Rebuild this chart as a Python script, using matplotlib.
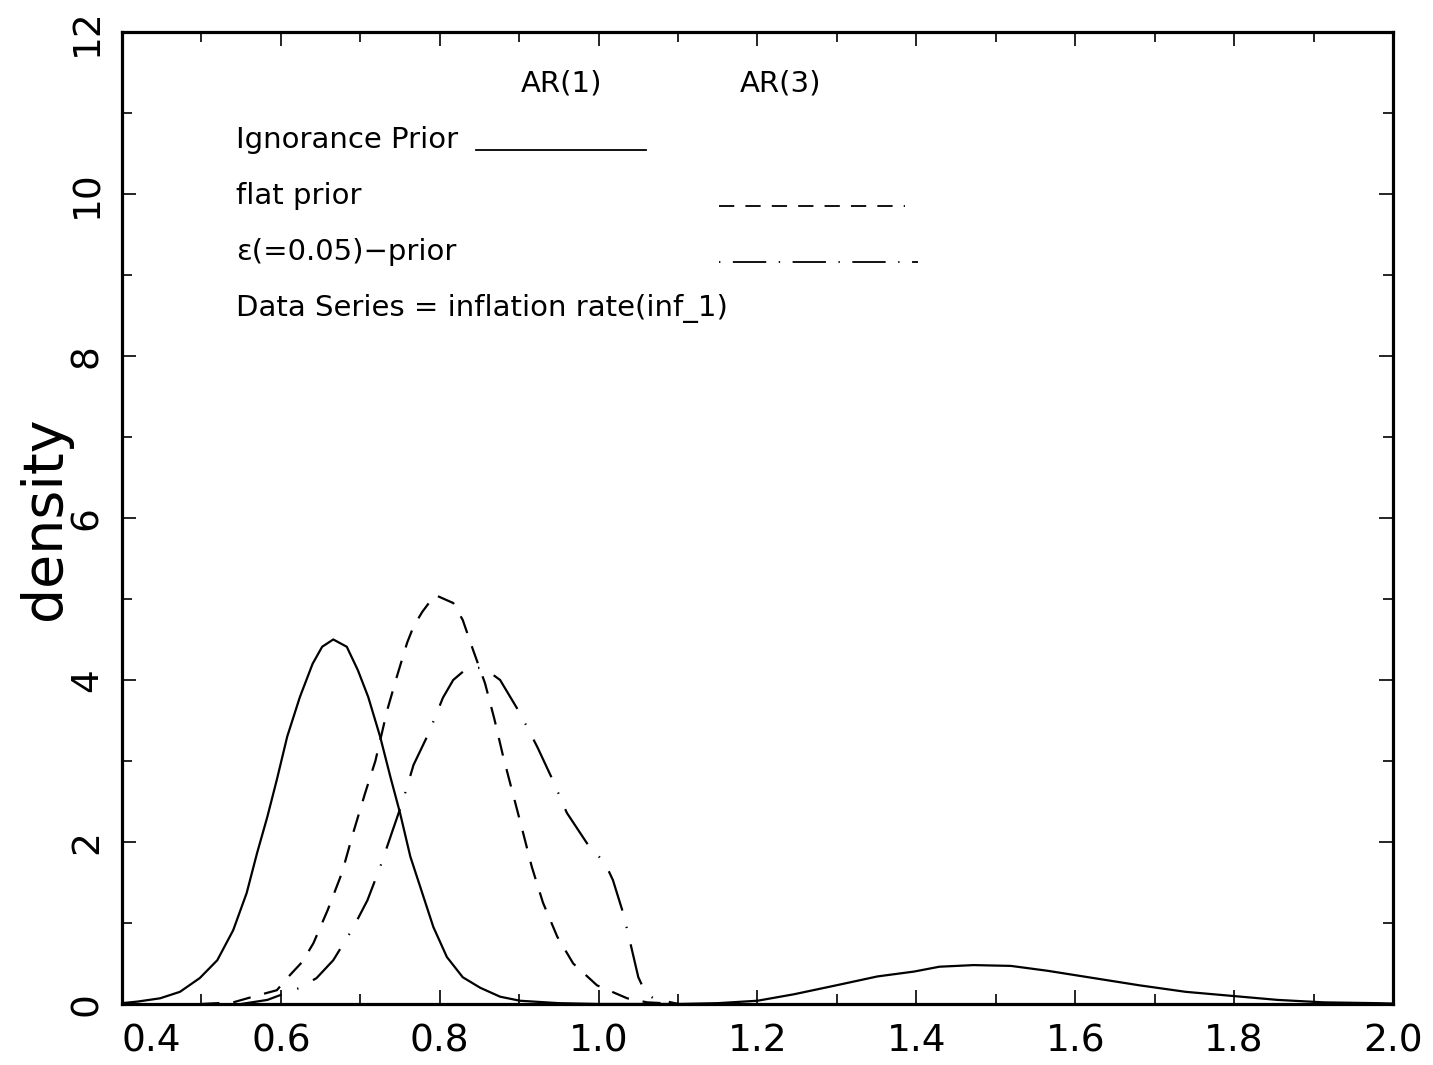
import matplotlib.pyplot as plt
import matplotlib as mpl
from matplotlib.ticker import MultipleLocator

plt.rcParams['font.family'] = ['DejaVu Sans']
mpl.rcParams['lines.scale_dashes'] = False

# Ignorance prior, AR(1)
x_ign = [0.40, 0.42, 0.448, 0.473, 0.498, 0.52, 0.54, 0.557, 0.57, 0.583, 0.595,
         0.608, 0.624, 0.64, 0.652, 0.666, 0.683, 0.697, 0.71, 0.725, 0.738, 0.75,
         0.763, 0.778, 0.792, 0.809, 0.829, 0.851, 0.876, 0.901, 0.95, 1.0, 1.05,
         1.1, 1.15, 1.2, 1.246, 1.299, 1.351, 1.397, 1.429, 1.472, 1.519, 1.565,
         1.623, 1.681, 1.739, 1.797, 1.855, 1.913, 1.98, 2.0]
y_ign = [0.01, 0.03, 0.07, 0.15, 0.32, 0.54, 0.91, 1.37, 1.86, 2.31, 2.77,
         3.3, 3.79, 4.2, 4.41, 4.5, 4.41, 4.12, 3.79, 3.3, 2.8, 2.36,
         1.82, 1.37, 0.95, 0.58, 0.33, 0.2, 0.09, 0.04, 0.01, 0.0, 0.0,
         0.0, 0.01, 0.04, 0.12, 0.23, 0.34, 0.40, 0.46, 0.48, 0.47, 0.41,
         0.32, 0.23, 0.15, 0.10, 0.05, 0.02, 0.01, 0.005]

# flat prior, AR(3)
x_flat = [0.50, 0.54, 0.565, 0.595, 0.608, 0.627, 0.641, 0.659, 0.677, 0.691, 0.706,
          0.719, 0.734, 0.746, 0.759, 0.767, 0.778, 0.794, 0.817, 0.829, 0.842,
          0.857, 0.869, 0.88, 0.892, 0.904, 0.916, 0.93, 0.948, 0.968, 0.998,
          1.036, 1.061, 1.10]
y_flat = [0.0, 0.02, 0.09, 0.17, 0.32, 0.52, 0.75, 1.16, 1.62, 2.11, 2.6,
          3.0, 3.63, 4.04, 4.46, 4.66, 4.84, 5.05, 4.95, 4.74, 4.37,
          3.96, 3.51, 3.05, 2.6, 2.15, 1.69, 1.25, 0.83, 0.5, 0.23,
          0.07, 0.02, 0.0]

# epsilon(=0.05) prior, AR(3)
x_eps = [0.55, 0.583, 0.624, 0.645, 0.666, 0.691, 0.709, 0.725, 0.741, 0.754,
         0.767, 0.786, 0.804, 0.817, 0.835, 0.855, 0.876, 0.901, 0.923, 0.942,
         0.96, 0.987, 1.008, 1.018, 1.031, 1.04, 1.05, 1.059, 1.069, 1.10]
y_eps = [0.0, 0.05, 0.2, 0.32, 0.54, 0.94, 1.28, 1.69, 2.15, 2.52,
         2.95, 3.34, 3.78, 4.0, 4.15, 4.15, 4.0, 3.59, 3.17, 2.77,
         2.36, 1.96, 1.74, 1.53, 1.12, 0.75, 0.33, 0.14, 0.07, 0.0]

dashed = (0, (13, 10))
dashdot = (0, (30, 12, 1, 12))

fig = plt.figure(figsize=(14.33, 10.65), dpi=100)
ax = fig.add_axes([0.0851, 0.0573, 0.887, 0.9127])

ax.plot(x_ign, y_ign, color='black', lw=1.6)
ax.plot(x_flat, y_flat, color='black', lw=1.6, linestyle=dashed)
ax.plot(x_eps, y_eps, color='black', lw=1.6, linestyle=dashdot)

ax.set_xlim(0.4, 2.0)
ax.set_ylim(0, 12)
ax.xaxis.set_major_locator(MultipleLocator(0.2))
ax.xaxis.set_minor_locator(MultipleLocator(0.1))
ax.yaxis.set_major_locator(MultipleLocator(2))
ax.yaxis.set_minor_locator(MultipleLocator(1))
ax.xaxis.set_major_formatter(mpl.ticker.FormatStrFormatter('%.1f'))

for s in ax.spines.values():
    s.set_linewidth(2.3)
ax.tick_params(which='both', direction='in', top=True, right=True, width=1.2)
ax.tick_params(which='major', length=10, labelsize=27)
ax.tick_params(which='minor', length=7)
ax.tick_params(axis='x', pad=14)
ax.tick_params(axis='y', pad=12, labelrotation=90)

ax.set_ylabel('density', fontsize=40, labelpad=-2)

# legend table
tf = dict(transform=ax.transAxes, fontsize=21)
ax.text(0.346, 0.947, 'AR(1)', ha='center', va='center', **tf)
ax.text(0.518, 0.947, 'AR(3)', ha='center', va='center', **tf)
ax.text(0.0897, 0.889, 'Ignorance Prior', ha='left', va='center', **tf)
ax.text(0.0897, 0.831, 'flat prior', ha='left', va='center', **tf)
ax.text(0.0897, 0.774, 'ε(=0.05)−prior', ha='left', va='center', **tf)
ax.text(0.0897, 0.715, 'Data Series = inflation rate(inf_1)', ha='left', va='center', **tf)
ax.plot([0.2785, 0.4123], [0.8786, 0.8786], transform=ax.transAxes, color='black', lw=1.3)
ax.plot([0.4697, 0.616], [0.821, 0.821], transform=ax.transAxes, color='black', lw=1.3,
        linestyle=(0, (11, 8)))
ax.plot([0.4697, 0.626], [0.763, 0.763], transform=ax.transAxes, color='black', lw=1.3,
        linestyle=(0, (1, 9, 24, 9)))

fig.canvas.draw()
for tick in ax.yaxis.get_major_ticks():
    tick.label1.set_va('center')
for tick in ax.xaxis.get_major_ticks():
    if abs(tick.get_loc() - 0.4) < 1e-6:
        tick.label1.set_ha('left')

plt.savefig('out.png', dpi=100)
plt.close()
